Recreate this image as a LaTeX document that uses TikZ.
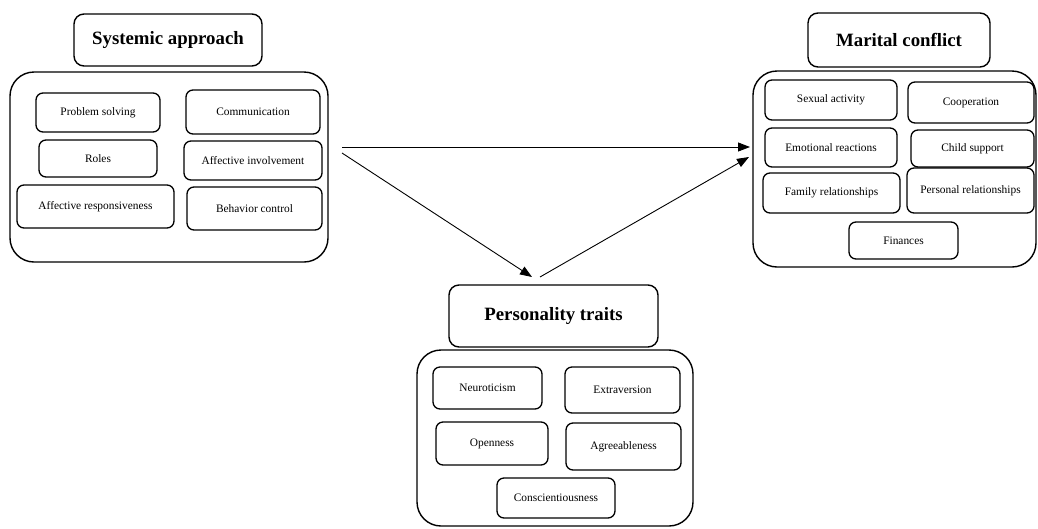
\documentclass[tikz,border=0pt]{standalone}
\usepackage{fontspec}
\setmainfont{Liberation Serif}
\usetikzlibrary{arrows.meta}
\tikzset{
  ib/.style={draw, line width=1.3pt, rounded corners=7pt, inner sep=0pt, font=\fontsize{11.4}{13}\selectfont, anchor=center},
  ob/.style={draw, line width=1.4pt, rounded corners=24pt, inner sep=0pt},
  tb/.style={draw, line width=1.4pt, rounded corners=10pt, inner sep=0pt, font=\fontsize{18.8}{21}\selectfont\bfseries},
  arr/.style={line width=0.9pt, -{Triangle[length=12pt,width=9pt]}}
}
\newcommand\placebox[7]{%
  \node[#2, minimum width={(#5-#3)*1pt}, minimum height={(#6-#4)*1pt}] (#1) at ({(#3+#5)/2},{(#4+#6)/2}) {#7};}
\begin{document}
\begin{tikzpicture}[x=1pt,y=-1pt]
\useasboundingbox (0,0) rectangle (1038,528);
% Systemic approach
\placebox{systitle}{tb}{74}{14}{262}{66}{Systemic approach}
\placebox{sysout}{ob}{10}{72}{328}{262}{}
\placebox{ps}{ib}{36}{93}{160}{132}{Problem solving}
\placebox{com}{ib}{186}{90}{320}{134}{Communication}
\placebox{rol}{ib}{39}{140}{157}{177}{Roles}
\placebox{ai}{ib}{184}{141}{322}{180}{Affective involvement}
\placebox{ar}{ib}{17}{185}{174}{228}{Affective responsiveness}
\placebox{bc}{ib}{187}{187}{322}{230}{Behavior control}
% Marital conflict
\placebox{mctitle}{tb}{808}{13}{990}{67}{Marital conflict}
\placebox{mcout}{ob}{753}{71}{1036}{267}{}
\placebox{sa}{ib}{765}{80}{897}{120}{Sexual activity}
\placebox{coop}{ib}{908}{82}{1034}{123}{Cooperation}
\placebox{er}{ib}{765}{128}{897}{167}{Emotional reactions}
\placebox{cs}{ib}{911}{130}{1034}{167}{Child support}
\placebox{fr}{ib}{763}{173}{900}{213}{Family relationships}
\placebox{pr}{ib}{907}{168}{1034}{213}{Personal relationships}
\placebox{fin}{ib}{849}{222}{958}{259}{Finances}
% Personality traits
\placebox{pttitle}{tb}{449}{285}{658}{347}{Personality traits}
\placebox{ptout}{ob}{417}{350}{693}{526}{}
\placebox{neu}{ib}{433}{367}{542}{409}{Neuroticism}
\placebox{ext}{ib}{565}{367}{680}{413}{Extraversion}
\placebox{ope}{ib}{436}{422}{548}{465}{Openness}
\placebox{agr}{ib}{566}{423}{681}{470}{Agreeableness}
\placebox{con}{ib}{497}{478}{615}{518}{Conscientiousness}
% arrows
\coordinate (s1) at (342,147);
\coordinate (s2) at (342,153);
\coordinate (m1) at (750,147);
\coordinate (m2) at (749,157);
\coordinate (p1) at (532,277);
\coordinate (p2) at (540,277);
\draw[arr] (s1) -- (m1);
\draw[arr] (s2) -- (p1);
\draw[arr] (p2) -- (m2);
\end{tikzpicture}
\end{document}
